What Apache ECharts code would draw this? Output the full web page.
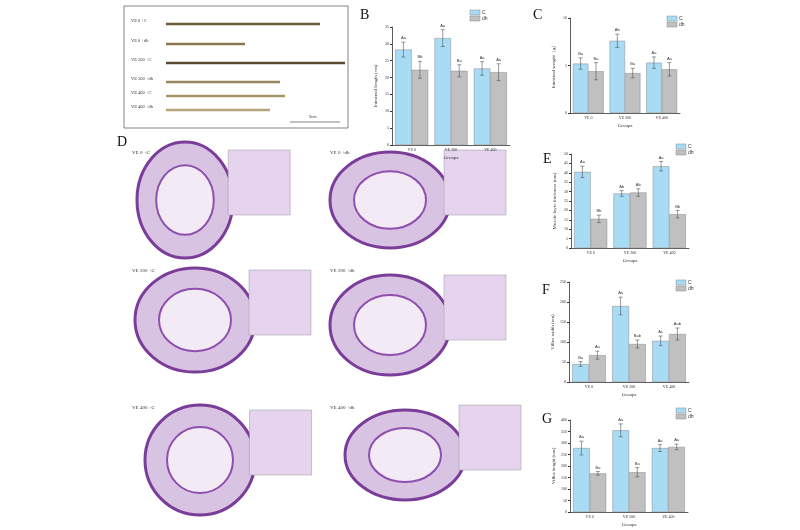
<!DOCTYPE html>
<html>
<head>
<meta charset="utf-8">
<script src="https://cdn.jsdelivr.net/npm/echarts@6/dist/echarts.min.js"></script>
<style>html,body{margin:0;background:#fff}#main{width:800px;height:530px}</style>
</head>
<body>
<div id="main"></div>
<script>
let groups = ['VE 0', 'VE 200', 'VE 400'];
let seriesNames = ['C', 'dh'];

// panel B: intestinal length
let lenC = [28.3, 31.7, 22.7];
let lenDh = [22.3, 22.0, 21.6];
let lenErrC = [2.2, 2.5, 2.0];
let lenErrDh = [2.5, 1.8, 2.5];
let lenLabC = ['Aa', 'Aa', 'Aa'];
let lenLabDh = ['Bb', 'Ba', 'Aa'];

// panel C: intestinal weight
let wtC = [5.2, 7.6, 5.3];
let wtDh = [4.4, 4.2, 4.6];
let wtErrC = [0.6, 0.7, 0.6];
let wtErrDh = [0.9, 0.5, 0.7];
let wtLabC = ['Ba', 'Ab', 'Aa'];
let wtLabDh = ['Ba', 'Ba', 'Aa'];

// panel E: muscle layer thickness
let musC = [40.5, 29.0, 43.5];
let musDh = [15.5, 29.5, 18.0];
let musErrC = [3.0, 1.5, 2.5];
let musErrDh = [2.0, 2.0, 2.0];
let musLabC = ['Aa', 'Ab', 'Aa'];
let musLabDh = ['Bb', 'Ab', 'Bb'];

// panel F: villus width
let widC = [45, 190, 103];
let widDh = [67, 95, 120];
let widErrC = [6, 22, 12];
let widErrDh = [10, 10, 15];
let widLabC = ['Ba', 'Aa', 'Ac'];
let widLabDh = ['Aa', 'Bab', 'Aab'];

// panel G: villus height
let hgtC = [278, 355, 278];
let hgtDh = [168, 173, 283];
let hgtErrC = [30, 28, 15];
let hgtErrDh = [8, 20, 12];
let hgtLabC = ['Aa', 'Aa', 'Aa'];
let hgtLabDh = ['Ba', 'Ba', 'Aa'];

let panels = [
  {name: 'Intestinal length (cm)', box: [392, 27, 118, 118], max: 35, step: 5, c: lenC, d: lenDh, ec: lenErrC, ed: lenErrDh, lc: lenLabC, ld: lenLabDh, xname: 'Groups', leg: [470, 10]},
  {name: 'Intestinal weight（g）', box: [570, 18, 110, 95], max: 10, step: 5, c: wtC, d: wtDh, ec: wtErrC, ed: wtErrDh, lc: wtLabC, ld: wtLabDh, xname: 'Groups', leg: [667, 16]},
  {name: 'Muscle layer thickness (um)', box: [571, 154, 118, 94], max: 50, step: 5, c: musC, d: musDh, ec: musErrC, ed: musErrDh, lc: musLabC, ld: musLabDh, xname: 'Groups', leg: [676, 144]},
  {name: 'Villus width (um)', box: [569, 282, 120, 100], max: 250, step: 50, c: widC, d: widDh, ec: widErrC, ed: widErrDh, lc: widLabC, ld: widLabDh, xname: 'Groups', leg: [676, 280]},
  {name: 'Villus height (um)', box: [570, 420, 118, 92], max: 400, step: 50, c: hgtC, d: hgtDh, ec: hgtErrC, ed: hgtErrDh, lc: hgtLabC, ld: hgtLabDh, xname: 'Groups', leg: [676, 408]}
];

let grid = [], xAxis = [], yAxis = [], series = [];
let graphic = [];
let tiny = {fontSize: 4, color: '#333', fontFamily: 'Liberation Serif'};

panels.forEach(function (p, i) {
  grid.push({left: p.box[0], top: p.box[1], width: p.box[2], height: p.box[3]});
  xAxis.push({
    gridIndex: i, type: 'category', data: groups,
    name: p.xname, nameLocation: 'center', nameGap: 10, nameTextStyle: {fontSize: 5, color: '#333'},
    axisLine: {lineStyle: {color: '#333', width: 0.8}},
    axisTick: {alignWithLabel: true, length: 2}, axisLabel: Object.assign({margin: 3}, tiny)
  });
  yAxis.push({
    gridIndex: i, type: 'value', min: 0, max: p.max, interval: p.step,
    name: p.name, nameLocation: 'center', nameGap: 14, nameTextStyle: {fontSize: 5, color: '#333'},
    axisLine: {show: true, lineStyle: {color: '#333', width: 0.8}},
    axisTick: {show: true, length: 2}, splitLine: {show: false},
    axisLabel: Object.assign({margin: 3}, tiny)
  });
  [[p.c, p.ec, p.lc, '#a8dcf5', -1], [p.d, p.ed, p.ld, '#c0c0c0', 1]].forEach(function (s, k) {
    series.push({
      type: 'bar', name: seriesNames[k], xAxisIndex: i, yAxisIndex: i, data: s[0],
      barWidth: '42%', barGap: '0%',
      itemStyle: {color: s[3], borderColor: '#888', borderWidth: 0.5}
    });
    let vals = s[0], errs = s[1], labs = s[2], side = s[4];
    series.push({
      type: 'custom', xAxisIndex: i, yAxisIndex: i, z: 5,
      data: vals.map(function (v, j) { return [j, v, errs[j]]; }),
      renderItem: function (params, api) {
        let c = api.coord([api.value(0), api.value(1)]);
        let bw = api.size([1, 0])[0] * 0.42;
        let x = c[0] + side * bw / 2;
        let top = api.coord([api.value(0), api.value(1) + api.value(2)])[1];
        let bot = api.coord([api.value(0), api.value(1) - api.value(2)])[1];
        let st = {stroke: '#555', lineWidth: 0.6};
        return {type: 'group', children: [
          {type: 'line', shape: {x1: x, y1: top, x2: x, y2: bot}, style: st},
          {type: 'line', shape: {x1: x - 2, y1: top, x2: x + 2, y2: top}, style: st},
          {type: 'line', shape: {x1: x - 2, y1: bot, x2: x + 2, y2: bot}, style: st},
          {type: 'text', x: x, y: top - 2, style: {text: labs[params.dataIndex], fontSize: 4, fill: '#333', align: 'center', verticalAlign: 'bottom'}}
        ]};
      }
    });
  });
  // legend
  graphic.push({type: 'rect', shape: {x: p.leg[0], y: p.leg[1], width: 10, height: 5}, style: {fill: '#a8dcf5', stroke: '#888', lineWidth: 0.5}});
  graphic.push({type: 'rect', shape: {x: p.leg[0], y: p.leg[1] + 6, width: 10, height: 5}, style: {fill: '#c0c0c0', stroke: '#888', lineWidth: 0.5}});
  graphic.push({type: 'text', x: p.leg[0] + 12, y: p.leg[1], style: {text: 'C', fontSize: 5, fill: '#333'}});
  graphic.push({type: 'text', x: p.leg[0] + 12, y: p.leg[1] + 6, style: {text: 'dh', fontSize: 5, fill: '#333'}});
});

// panel letters
[['A', 140, 10], ['B', 360, 8], ['C', 533, 8], ['D', 117, 135], ['E', 543, 152], ['F', 542, 283], ['G', 542, 412]].forEach(function (t) {
  graphic.push({type: 'text', x: t[1], y: t[2], style: {text: t[0], fontSize: 14, fill: '#111', fontFamily: 'Liberation Serif'}});
});

// panel A: photo of intestines (drawn schematically)
graphic.push({type: 'rect', shape: {x: 124, y: 6, width: 224, height: 122}, style: {fill: '#fff', stroke: '#666', lineWidth: 0.8}});
[['VE 0 +C', 24, 320, '#6b5a3a'], ['VE 0 +dh', 44, 245, '#8a7650'], ['VE 200 +C', 63, 345, '#5a4a30'], ['VE 200 +dh', 82, 280, '#9a8660'],
 ['VE 400 +C', 96, 285, '#a8946a'], ['VE 400 +dh', 110, 270, '#b8a47a']].forEach(function (r) {
  graphic.push({type: 'text', x: 131, y: r[1] - 6, style: {text: r[0], fontSize: 4.5, fill: '#333', fontFamily: 'Liberation Serif'}});
  graphic.push({type: 'line', shape: {x1: 166, y1: r[1], x2: r[2], y2: r[1]}, style: {stroke: r[3], lineWidth: 2.5}});
});
graphic.push({type: 'line', shape: {x1: 290, y1: 122, x2: 340, y2: 122}, style: {stroke: '#333', lineWidth: 0.6}});
graphic.push({type: 'text', x: 309, y: 115, style: {text: '5cm', fontSize: 4, fill: '#333'}});

// panel D: histology sections (schematic)
[['VE 0 +C', 132, 150, 185, 200, 48, 58], ['VE 0 +dh', 330, 150, 390, 200, 60, 48],
 ['VE 200 +C', 132, 268, 195, 320, 60, 52], ['VE 200 +dh', 330, 268, 390, 325, 60, 50],
 ['VE 400 +C', 132, 405, 200, 460, 55, 55], ['VE 400 +dh', 330, 405, 405, 455, 60, 45]].forEach(function (s) {
  graphic.push({type: 'text', x: s[1], y: s[2], style: {text: s[0], fontSize: 5, fill: '#333', fontFamily: 'Liberation Serif'}});
  graphic.push({type: 'ellipse', shape: {cx: s[3], cy: s[4], rx: s[5], ry: s[6]}, style: {fill: '#d9c3e3', stroke: '#7a3d9a', lineWidth: 3}});
  graphic.push({type: 'ellipse', shape: {cx: s[3], cy: s[4], rx: s[5] * 0.6, ry: s[6] * 0.6}, style: {fill: '#f2ebf5', stroke: '#8e4fae', lineWidth: 2}});
  graphic.push({type: 'rect', shape: {x: s[3] + s[5] * 0.9, y: s[4] - 50, width: 62, height: 65}, style: {fill: '#e6d4ee', stroke: '#999', lineWidth: 0.5}});
});

let chart = echarts.init(document.getElementById('main'));
chart.setOption({
  animation: false,
  textStyle: {fontFamily: 'Liberation Serif'},
  grid: grid, xAxis: xAxis, yAxis: yAxis, series: series, graphic: graphic
});
</script>
</body>
</html>
